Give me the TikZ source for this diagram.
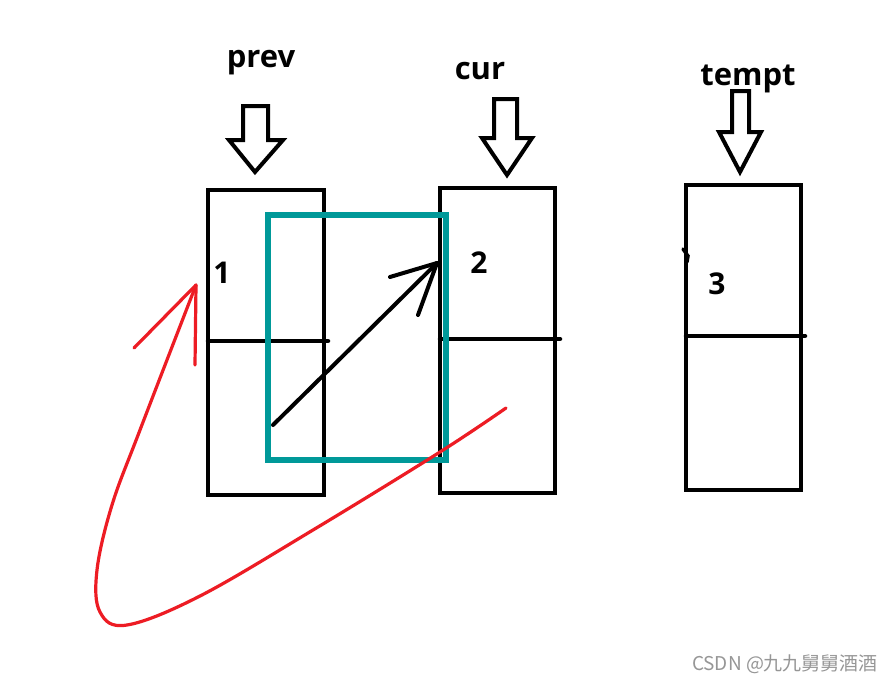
\documentclass[tikz,border=0pt]{standalone}
\usepackage{fontspec}
\setmainfont{Open Sans}
\newfontfamily\cjkfont{Noto Sans CJK SC}
\definecolor{selteal}{RGB}{0,153,153}
\definecolor{penred}{RGB}{237,28,36}
\definecolor{wmgray}{RGB}{150,150,150}
\begin{document}
\begin{tikzpicture}[x=1pt,y=-1pt,
  cell/.style={draw=black, line width=4.5pt, minimum width=116pt, minimum height=305pt, inner sep=0pt},
  midline/.style={line width=4.5pt, line cap=round},
  hollow/.style={draw=black, line width=4pt, miter limit=10},
  sel/.style={draw=selteal, line width=6.5pt, inner sep=0pt},
  lbl/.style={font=\fontsize{31}{34}\selectfont\bfseries, inner sep=0pt},
  num/.style={font=\fontsize{30}{34}\selectfont\bfseries, inner sep=0pt},
  blackpen/.style={line width=4pt, line cap=round},
  redpen/.style={draw=penred, line width=3.2pt, line cap=round, line join=round}]
\useasboundingbox (0,0) rectangle (896,685);
\fill[white] (0,0) rectangle (896,685);

% list cells
\node[cell] (c1) at (266,342.5) {};
\node[cell, minimum width=115pt] (c2) at (497.5,340.5) {};
\node[cell, minimum width=115pt] (c3) at (743.5,337.5) {};
\draw[midline] ([xshift=2.25pt]c1.west |- 0,341) -- ++(120,0);
\draw[midline] ([xshift=2.25pt]c2.west |- 0,339) -- ++(120,0);
\draw[midline] ([xshift=2.25pt]c3.west |- 0,336) -- ++(119,0);

% labels
\node[lbl] (lprev) at (261,63) {prev};
\node[lbl] (lcur) at (480,71) {cur};
\node[lbl] (ltempt) at (748,79) {tempt};

% hollow pointer arrows
\draw[hollow] (243,106) -- (268,106) -- (268,140) -- (283,140) -- (255,172) -- (229,140) -- (243,140) -- cycle;
\draw[hollow] (494,99) -- (517,99) -- (517,138) -- (532,138) -- (507,175) -- (482,138) -- (494,138) -- cycle;
\draw[hollow] (732,91) -- (749,91) -- (749,132) -- (761,132) -- (740,172) -- (719,132) -- (732,132) -- cycle;

% numbers
\node[num] (n1) at (222,273) {1};
\node[num] (n2) at (479,263) {2};
\node[num] (n3) at (717,284) {3};

% small mark in cell 3
\draw[line width=3.5pt, line cap=round] (683,249) -- (688,256) -- (687,262);

% teal selection
\node[sel, minimum width=178pt, minimum height=245pt] (s) at (357,337.5) {};

% black link arrow
\coordinate (a1) at (273,425);
\coordinate (a2) at (437,263);
\draw[blackpen] (a1) -- (a2);
\draw[blackpen] (a2) -- (390,277);
\draw[blackpen] (a2) -- (418,315);

% red re-link arrow
\coordinate (r0) at (506,408);
\coordinate (r1) at (196,285);
\draw[redpen] plot[smooth, tension=0.6] coordinates {(r0) (440,452) (313,530) (200,596) (127,625) (100,612) (97,570) (112,505) (140,430) (r1)};
\draw[redpen] (r1) -- (134,348);
\draw[redpen] (r1) -- (195,365);

% watermark
\node[font=\cjkfont\fontsize{19}{21}\selectfont, text=wmgray, inner sep=0pt] (wm) at (785,664) {CSDN @九九舅舅酒酒};
\end{tikzpicture}
\end{document}
